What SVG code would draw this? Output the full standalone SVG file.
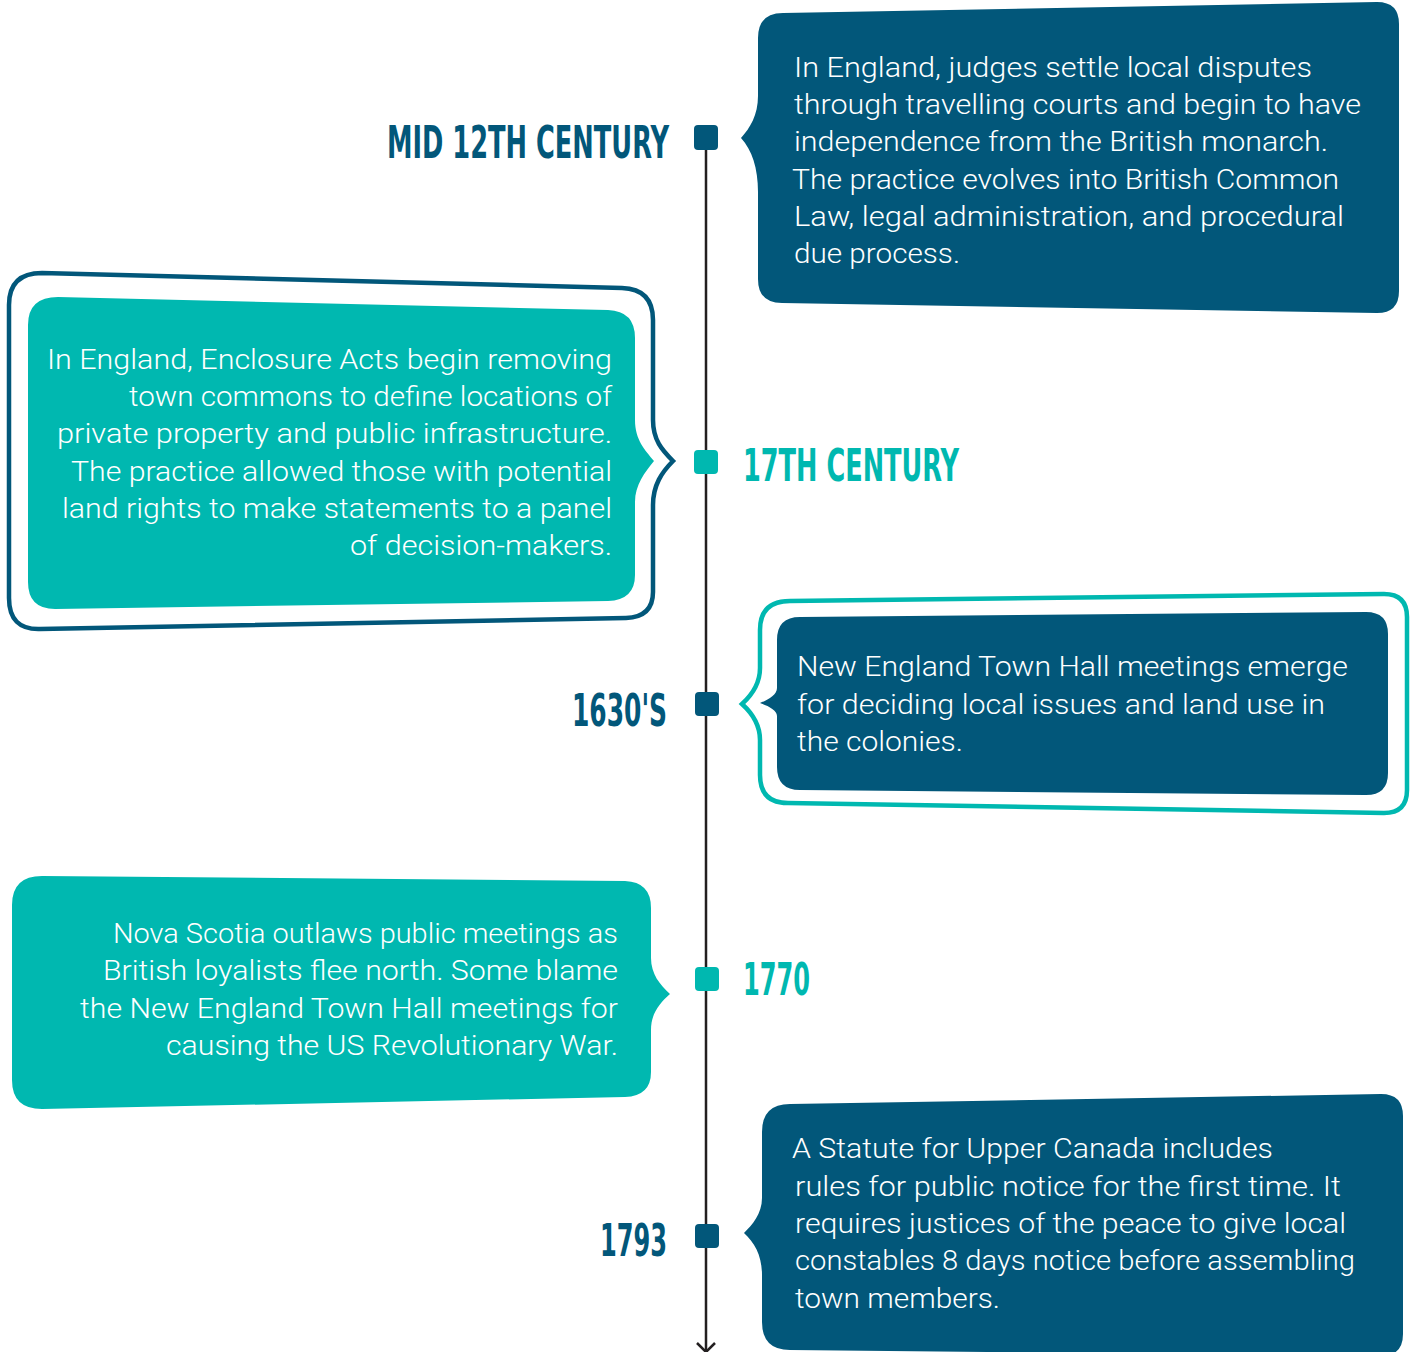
<svg xmlns="http://www.w3.org/2000/svg" width="1413" height="1352" viewBox="0 0 1413 1352">
<defs>
<style>
.dark{fill:#02577A}
.teal{fill:#00B8B0}
.olDark{fill:none;stroke:#02577A;stroke-width:4.5}
.olTeal{fill:none;stroke:#00B8B0;stroke-width:4.5}
.body{fill:#ffffff;font-family:Roboto,"Liberation Sans",sans-serif;font-size:27px;font-weight:300}
.lbl{font-family:"Liberation Sans Narrow","DejaVu Sans Condensed","Liberation Sans",sans-serif;font-weight:bold;font-size:45px}
.lblD{fill:#02577A}
.lblT{fill:#00B8B0}
.axis{stroke:#231F20;stroke-width:2.5;fill:none}
</style>
</defs>
<rect width="1413" height="1352" fill="#ffffff"/>
<g id="connectors">
<line class="axis" x1="706" y1="137" x2="706" y2="1352"/>
<polyline class="axis" points="697,1343 706,1352 715,1343"/>
</g>
<g id="marker-1"><rect class="dark" x="694" y="125" width="24" height="25" rx="4"/></g>
<g id="marker-2"><rect class="teal" x="694" y="450" width="24" height="24" rx="4"/></g>
<g id="marker-3"><rect class="dark" x="695" y="692" width="24" height="24" rx="4"/></g>
<g id="marker-4"><rect class="teal" x="695" y="967" width="24" height="24" rx="4"/></g>
<g id="marker-5"><rect class="dark" x="695" y="1224" width="24" height="24" rx="4"/></g>

<g id="label-mid12">
<text class="lbl lblD" x="387" y="158" textLength="282" lengthAdjust="spacingAndGlyphs">MID 12TH CENTURY</text>
</g>
<g id="label-17th">
<text class="lbl lblT" x="743" y="481" textLength="216" lengthAdjust="spacingAndGlyphs">17TH CENTURY</text>
</g>
<g id="label-1630">
<text class="lbl lblD" x="572" y="726" textLength="95" lengthAdjust="spacingAndGlyphs">1630'S</text>
</g>
<g id="label-1770">
<text class="lbl lblT" x="743" y="995" textLength="67" lengthAdjust="spacingAndGlyphs">1770</text>
</g>
<g id="label-1793">
<text class="lbl lblD" x="600" y="1256" textLength="67" lengthAdjust="spacingAndGlyphs">1793</text>
</g>

<g id="bubble-1">
<path class="dark" d="M783,13 L1377,2 Q1399,2 1399,24 L1399,291 Q1399,313 1377,313 L782,303 Q758,303 758,279 L758,192 C758,168 752,150 741,138 C750,128 758,115 758,96 L758,38 Q758,13 783,13 Z"/>
<text class="body" x="794" y="77" textLength="518" lengthAdjust="spacingAndGlyphs">In England, judges settle local disputes</text>
<text class="body" x="794" y="114" textLength="567" lengthAdjust="spacingAndGlyphs">through travelling courts and begin to have</text>
<text class="body" x="794" y="151" textLength="534" lengthAdjust="spacingAndGlyphs">independence from the British monarch.</text>
<text class="body" x="792" y="189" textLength="547" lengthAdjust="spacingAndGlyphs">The practice evolves into British Common</text>
<text class="body" x="794" y="226" textLength="550" lengthAdjust="spacingAndGlyphs">Law, legal administration, and procedural</text>
<text class="body" x="794" y="263" textLength="166" lengthAdjust="spacingAndGlyphs">due process.</text>
</g>

<g id="bubble-2">
<path class="olDark" d="M42,273 L622,288 Q653,289 653,320 L653,420 C653,440 662,450 673,461 C662,472 653,485 653,505 L653,592 Q653,617 626,618 L40,629 Q9,630 9,598 L9,305 Q9,273 42,273 Z"/>
<path class="teal" d="M58,297 L608,310 Q635,311 635,338 L635,420 C635,440 645,450 654,461 C645,472 635,485 635,502 L635,575 Q635,600 608,601 L55,609 Q28,609 28,582 L28,325 Q28,297 58,297 Z"/>
<text class="body" x="47" y="369" textLength="565" lengthAdjust="spacingAndGlyphs">In England, Enclosure Acts begin removing</text>
<text class="body" x="129" y="406" textLength="483" lengthAdjust="spacingAndGlyphs">town commons to define locations of</text>
<text class="body" x="57" y="443" textLength="555" lengthAdjust="spacingAndGlyphs">private property and public infrastructure.</text>
<text class="body" x="71" y="481" textLength="541" lengthAdjust="spacingAndGlyphs">The practice allowed those with potential</text>
<text class="body" x="62" y="518" textLength="550" lengthAdjust="spacingAndGlyphs">land rights to make statements to a panel</text>
<text class="body" x="350" y="555" textLength="262" lengthAdjust="spacingAndGlyphs">of decision-makers.</text>
</g>

<g id="bubble-3">
<path class="olTeal" d="M790,601 L1384,594 Q1407,594 1407,617 L1407,790 Q1407,813 1384,813 L788,803 Q760,803 760,775 L760,740 C760,726 752,713 742,704 C752,695 760,684 760,668 L760,630 Q760,601 790,601 Z"/>
<path class="dark" d="M800,617 L1366,612 Q1388,612 1388,634 L1388,773 Q1388,795 1366,795 L800,790 Q777,790 777,767 L777,716 C777,710 768,706 760,703 C768,700 777,695 777,688 L777,640 Q777,617 800,617 Z"/>
<text class="body" x="797" y="676" textLength="551" lengthAdjust="spacingAndGlyphs">New England Town Hall meetings emerge</text>
<text class="body" x="797" y="714" textLength="528" lengthAdjust="spacingAndGlyphs">for deciding local issues and land use in</text>
<text class="body" x="797" y="751" textLength="166" lengthAdjust="spacingAndGlyphs">the colonies.</text>
</g>

<g id="bubble-4">
<path class="teal" d="M42,876 L625,881 Q651,882 651,908 L651,958 C651,974 660,985 670,994 C660,1003 651,1013 651,1030 L651,1072 Q651,1096 625,1097 L42,1109 Q12,1109 12,1080 L12,905 Q12,876 42,876 Z"/>
<text class="body" x="113" y="943" textLength="505" lengthAdjust="spacingAndGlyphs">Nova Scotia outlaws public meetings as</text>
<text class="body" x="103" y="980" textLength="515" lengthAdjust="spacingAndGlyphs">British loyalists flee north. Some blame</text>
<text class="body" x="80" y="1018" textLength="538" lengthAdjust="spacingAndGlyphs">the New England Town Hall meetings for</text>
<text class="body" x="166" y="1055" textLength="452" lengthAdjust="spacingAndGlyphs">causing the US Revolutionary War.</text>
</g>

<g id="bubble-5">
<path class="dark" d="M790,1104 L1381,1094 Q1403,1094 1403,1116 L1403,1334 Q1403,1356 1381,1356 L790,1350 Q762,1350 762,1322 L762,1275 C762,1256 755,1243 744,1233 C752,1225 762,1214 762,1198 L762,1132 Q762,1104 790,1104 Z"/>
<text class="body" x="792" y="1158" textLength="481" lengthAdjust="spacingAndGlyphs">A Statute for Upper Canada includes</text>
<text class="body" x="795" y="1196" textLength="546" lengthAdjust="spacingAndGlyphs">rules for public notice for the first time. It</text>
<text class="body" x="795" y="1233" textLength="551" lengthAdjust="spacingAndGlyphs">requires justices of the peace to give local</text>
<text class="body" x="795" y="1270" textLength="560" lengthAdjust="spacingAndGlyphs">constables 8 days notice before assembling</text>
<text class="body" x="795" y="1308" textLength="205" lengthAdjust="spacingAndGlyphs">town members.</text>
</g>
</svg>
